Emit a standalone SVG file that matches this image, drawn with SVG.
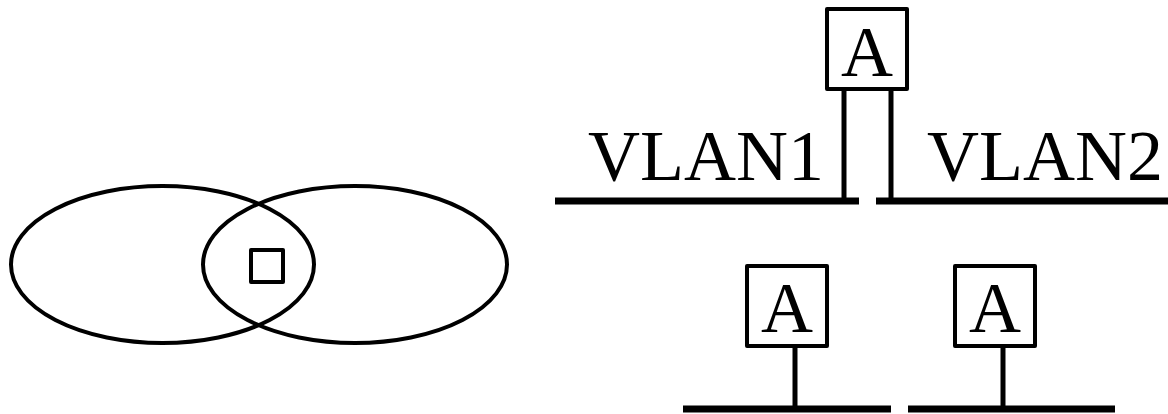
<svg xmlns="http://www.w3.org/2000/svg" width="1168" height="414" viewBox="0 0 1168 414">
<style>
.sh{fill:none;stroke:#000;stroke-width:4;stroke-linejoin:round}
.box{fill:#fff;stroke:#000;stroke-width:4;stroke-linejoin:round}
.ln{stroke:#000;stroke-width:5;fill:none}
.bus{stroke:#000;stroke-width:7;fill:none}
.t{font-family:"Liberation Serif","Times New Roman",serif;font-size:72px;fill:#000}
</style>
<rect width="1168" height="414" fill="#fff"/>
<g id="venn">
<ellipse class="sh" cx="162.5" cy="264.5" rx="151.5" ry="78.5"/>
<ellipse class="sh" cx="355" cy="264.5" rx="152" ry="78.5"/>
<rect class="sh" x="251" y="250" width="32" height="32"/>
</g>
<g id="connectors">
<line class="ln" x1="844" y1="89" x2="844" y2="201"/>
<line class="ln" x1="891" y1="89" x2="891" y2="201"/>
<line class="bus" x1="555" y1="201" x2="859" y2="201"/>
<line class="bus" x1="876" y1="201" x2="1168" y2="201"/>
<line class="ln" x1="795" y1="346" x2="795" y2="409"/>
<line class="ln" x1="1003" y1="346" x2="1003" y2="409"/>
<line class="bus" x1="683" y1="409" x2="891" y2="409"/>
<line class="bus" x1="908" y1="409" x2="1115" y2="409"/>
</g>
<g id="label-vlan1"><text class="t" x="588" y="180">VLAN1</text></g>
<g id="label-vlan2"><text class="t" x="927" y="180">VLAN2</text></g>
<g id="node-top">
<rect class="box" x="827" y="9" width="80" height="80"/>
<text class="t" x="867" y="76" text-anchor="middle">A</text>
</g>
<g id="node-bottom-left">
<rect class="box" x="747" y="266" width="80" height="80"/>
<text class="t" x="787" y="332" text-anchor="middle">A</text>
</g>
<g id="node-bottom-right">
<rect class="box" x="955" y="266" width="80" height="80"/>
<text class="t" x="995" y="332" text-anchor="middle">A</text>
</g>
</svg>
